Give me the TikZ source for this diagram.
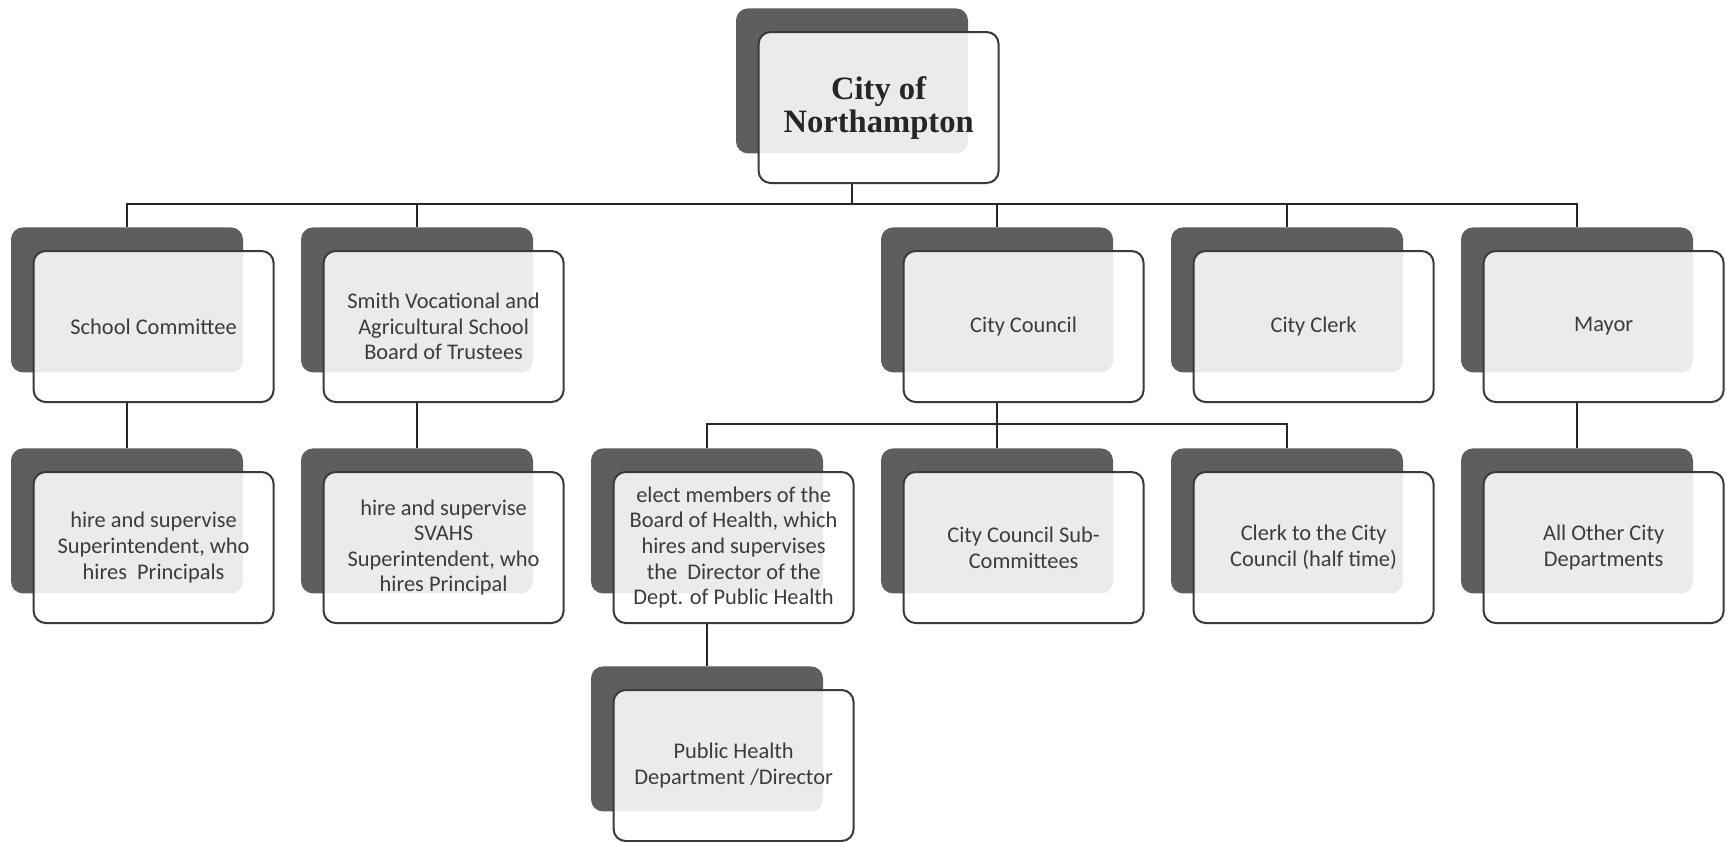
\documentclass[tikz,border=0pt]{standalone}
\usepackage{fontspec}
\setmainfont{Carlito}
\newfontfamily\titlefont{Liberation Serif}
\usetikzlibrary{positioning}

\definecolor{backgrey}{HTML}{5E5E5E}
\definecolor{edgegrey}{HTML}{3A3A3A}
\definecolor{textgrey}{HTML}{3C3C3C}

% back card, then the card in front of it
\newcommand{\orgunit}[5][]{
	\node [backbox] (#2-back) at (#3,#4) {};
	\node [frontbox, #1, below right=11.5pt and 11pt of #2-back.north west] (#2) {#5};
}

\begin{document}
\begin{tikzpicture}[x=0.5pt,y=-0.5pt,
		backbox/.style={fill=backgrey,rounded corners=6pt,inner sep=0pt,
			minimum width=116pt,minimum height=72.5pt,anchor=north},
		frontbox/.style={draw=edgegrey,line width=1pt,fill=white,fill opacity=0.88,
			text opacity=1,text=textgrey,rounded corners=6pt,inner sep=2pt,
			minimum width=120pt,minimum height=75.5pt,align=center,
			font=\fontsize{11.2}{12.8}\selectfont},
		titlecard/.style={text=black!85,font=\titlefont\bfseries\fontsize{16.3}{16.5}\selectfont},
		link/.style={draw=black!85,line width=1.2pt}]
		
		\useasboundingbox (0,0) rectangle (1727,841);
		
		\orgunit[titlecard]{city}{852}{8}{City of\\Northampton}
		
		\orgunit{school}{127}{227}{School Committee}
		\orgunit{smith}{417}{227}{Smith Vocational and\\Agricultural School\\Board of Trustees}
		\orgunit{council}{997}{227}{City Council}
		\orgunit{clerk}{1287}{227}{City Clerk}
		\orgunit{mayor}{1577}{227}{Mayor}
		
		\orgunit{principals}{127}{448}{hire and supervise\\Superintendent, who\\hires\ \ Principals}
		\orgunit{svahs}{417}{448}{hire and supervise\\SVAHS\\Superintendent, who\\hires Principal}
		\orgunit{health}{707}{448}{elect members of the\\Board of Health, which\\hires and supervises\\the\ \ Director of the\\Dept. of Public Health}
		\orgunit{sub}{997}{448}{City Council Sub-\\Committees}
		\orgunit{cclerk}{1287}{448}{Clerk to the City\\Council (half time)}
		\orgunit{depts}{1577}{448}{All Other City\\Departments}
		
		\orgunit{publichealth}{707}{666}{Public Health\\Department /Director}
		
		\coordinate (bus) at (852,204);
		\coordinate (cbus) at (997,424);
		
		\draw [link] (city-back.center |- city.south) -- (bus);
		\foreach \n in {school,smith,council,clerk,mayor} {
			\draw [link] (bus) -| (\n-back.north);
		}
		
		\draw [link] (council-back.center |- council.south) -- (cbus);
		\foreach \n in {health,sub,cclerk} {
			\draw [link] (cbus) -| (\n-back.north);
		}
		
		\foreach \a/\b in {school/principals,smith/svahs,mayor/depts,health/publichealth} {
			\draw [link] (\a-back.center |- \a.south) -- (\b-back.north);
		}
	\end{tikzpicture}
\end{document}
